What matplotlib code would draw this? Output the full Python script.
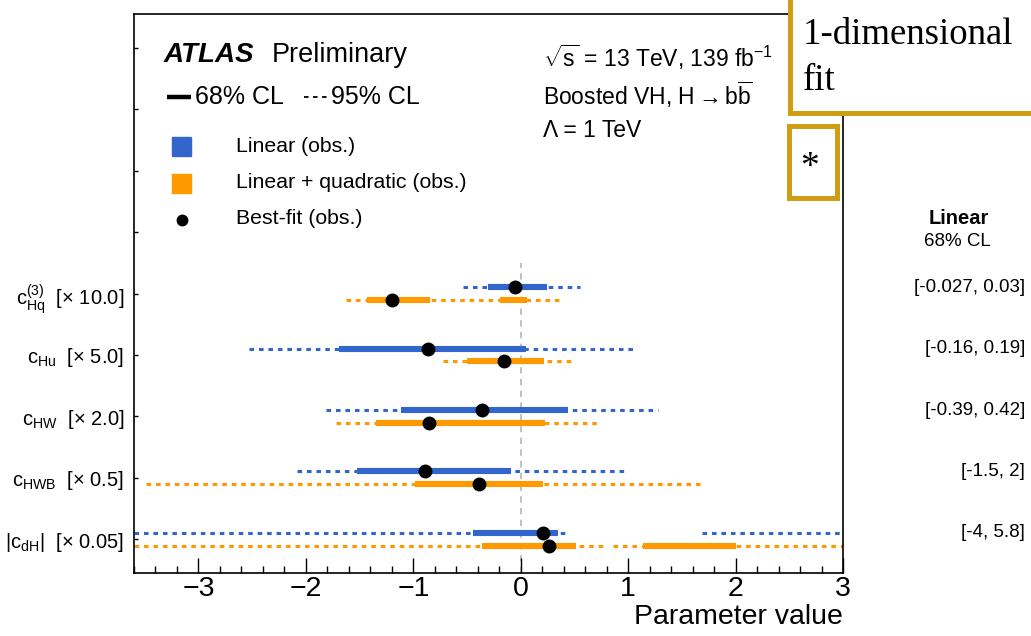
import numpy as np
import matplotlib
matplotlib.use("Agg")
import matplotlib.pyplot as plt
from matplotlib.lines import Line2D
from matplotlib.patches import Rectangle

plt.rcParams['font.family'] = ['Liberation Sans', 'DejaVu Sans']
plt.rcParams['mathtext.fontset'] = 'custom'
plt.rcParams['mathtext.rm'] = 'Liberation Sans'
plt.rcParams['mathtext.it'] = 'Liberation Sans:italic'
plt.rcParams['mathtext.bf'] = 'Liberation Sans:bold'

W, H = 1031, 636

# Wilson coefficients, bottom row first
names = [r'$\mathrm{|c}_{\mathrm{dH}}\mathrm{|}$',
         r'$\mathrm{c}_{\mathrm{HWB}}$',
         r'$\mathrm{c}_{\mathrm{HW}}$',
         r'$\mathrm{c}_{\mathrm{Hu}}$',
         r'$\mathrm{c}^{(3)}_{\mathrm{Hq}}$']
scales = ['[× 0.05]', '[× 0.5]', '[× 2.0]', '[× 5.0]', '[× 10.0]']

# linear fit (obs.)
lin_best = [0.21, -0.89, -0.36, -0.86, -0.05]
lin_68 = [[(-0.44, 0.35)], [(-1.52, -0.09)], [(-1.11, 0.44)], [(-1.69, 0.05)], [(-0.30, 0.24)]]
lin_95 = [[(-3.6, 0.41), (1.69, 3.0)], [(-2.08, 0.99)], [(-1.81, 1.28)], [(-2.53, 1.07)], [(-0.54, 0.55)]]

# linear + quadratic fit (obs.)
quad_best = [0.26, -0.39, -0.85, -0.16, -1.20]
quad_68 = [[(-0.36, 0.51), (1.14, 2.0)], [(-0.98, 0.21)], [(-1.35, 0.23)], [(-0.50, 0.22)],
           [(-1.43, -0.84), (-0.19, 0.06)]]
quad_95 = [[(-3.6, 0.79), (0.86, 3.0)], [(-3.49, 1.67)], [(-1.72, 0.75)], [(-0.72, 0.49)], [(-1.63, 0.38)]]

# linear 68% CL intervals, unscaled
lin_text = ['[-4, 5.8]', '[-1.5, 2]', '[-0.39, 0.42]', '[-0.16, 0.19]', '[-0.027, 0.03]']

blue = '#3366cc'
orange = '#ff9900'
gold = '#d09e14'
dash95 = (0, (1.5, 1.6))


def fx(px):
    return px / W


def fy(py):
    return 1 - py / H


fig = plt.figure(figsize=(W / 100, H / 100), dpi=100)
ax = fig.add_axes([fx(134), fy(573), (843 - 134) / W, (573 - 14) / H])

rows = np.arange(len(names))
off = 0.103

ax.vlines(0, -0.55, 4.5, color='#bbbbbb', lw=1.3, linestyles=(0, (3.5, 3)), zorder=1)

for i in rows:
    for col, best, i68, i95, dy in [(blue, lin_best, lin_68, lin_95, off),
                                    (orange, quad_best, quad_68, quad_95, -off)]:
        y = i + dy
        for lo, hi in i95[i]:
            ax.plot([lo, hi], [y, y], color=col, lw=2.2, ls=dash95, dash_capstyle='butt', zorder=2)
        for lo, hi in i68[i]:
            ax.plot([lo, hi], [y, y], color=col, lw=4.4, solid_capstyle='butt', zorder=3)
        ax.plot(best[i], y, 'o', color='black', ms=9, zorder=4)

ax.set_xlim(-3.6, 3.0)
ax.set_ylim(-0.55, 8.55)
ax.set_xticks(np.arange(-3, 4))
ax.set_xticks(np.arange(-3.6, 3.01, 0.2), minor=True)
ax.tick_params(axis='x', which='major', direction='in', length=11, width=1, labelsize=20.5, pad=2, top=False)
ax.tick_params(axis='x', which='minor', direction='in', length=5, width=1, top=False)
ax.set_yticks(np.arange(9))
ax.set_yticklabels([f'{n}  {s}' for n, s in zip(names, scales)] + [''] * 4, fontsize=14.5)
ax.tick_params(axis='y', direction='in', length=3, width=1, pad=7, right=False)
for sp in ax.spines.values():
    sp.set_linewidth(1.2)
ax.set_xlabel('Parameter value', fontsize=20.5, ha='right')
ax.xaxis.set_label_coords(1.0, -0.056)

# right column: linear 68% CL
fig.text(fx(959), fy(219), 'Linear', fontsize=14.5, weight='bold', ha='center', va='center')
fig.text(fx(957), fy(242), '68% CL', fontsize=13.5, ha='center', va='center')
for i in rows:
    yd = ax.transData.transform((0, i + off))[1] / H
    fig.text(fx(1025), yd, lin_text[i], fontsize=13.5, ha='right', va='center')

# header
fig.text(fx(164), fy(55), 'ATLAS', fontsize=20, weight='bold', style='italic', va='center')
fig.text(fx(272), fy(55), 'Preliminary', fontsize=19.5, va='center')
fig.add_artist(Line2D([fx(167), fx(191)], [fy(97), fy(97)], color='black', lw=3.2,
                      solid_capstyle='butt'))
fig.text(fx(195), fy(97), '68% CL', fontsize=18, va='center')
fig.add_artist(Line2D([fx(304), fx(330)], [fy(97), fy(97)], color='black', lw=1.3,
                      ls=(0, (2.5, 2.5))))
fig.text(fx(331), fy(97), '95% CL', fontsize=18, va='center')

fig.add_artist(Rectangle((fx(172), fy(156)), 19 / W, 19 / H, color=blue))
fig.add_artist(Rectangle((fx(172), fy(193)), 19 / W, 19 / H, color=orange))
fig.add_artist(Line2D([fx(182)], [fy(220)], marker='o', color='black', ms=7.5))
fig.text(fx(236), fy(147), 'Linear (obs.)', fontsize=15.3, va='center')
fig.text(fx(236), fy(183), 'Linear + quadratic (obs.)', fontsize=15.3, va='center')
fig.text(fx(236), fy(219), 'Best-fit (obs.)', fontsize=15.3, va='center')

fig.text(fx(543), fy(57), r'$\sqrt{\mathrm{s}}$ = 13 TeV, 139 fb$^{\mathrm{-1}}$', fontsize=16.5, va='center')
fig.text(fx(543), fy(95), r'Boosted VH, H$\rightarrow$b$\overline{\mathrm{b}}$', fontsize=16.5, va='center')
fig.text(fx(543), fy(130), 'Λ = 1 TeV', fontsize=16.5, va='center')

# boxed notes
fig.add_artist(Rectangle((fx(789.5), fy(112.5)), (1045 - 789.5) / W, (112.5 + 10) / H,
                         fill=True, facecolor='white', edgecolor=gold, lw=3.6, zorder=5))
fig.text(fx(803), fy(44), '1-dimensional', fontsize=26.5, family='Liberation Serif', va='baseline', zorder=6)
fig.text(fx(803), fy(90), 'fit', fontsize=26.5, family='Liberation Serif', va='baseline', zorder=6)
fig.add_artist(Rectangle((fx(788.5), fy(197.5)), 48 / W, 72 / H,
                         fill=True, facecolor='white', edgecolor=gold, lw=3.6, zorder=5))
fig.text(fx(810), fy(168), '*', fontsize=27, family='Liberation Serif', ha='center', va='center', zorder=6)

fig.savefig('out.png', dpi=100)
